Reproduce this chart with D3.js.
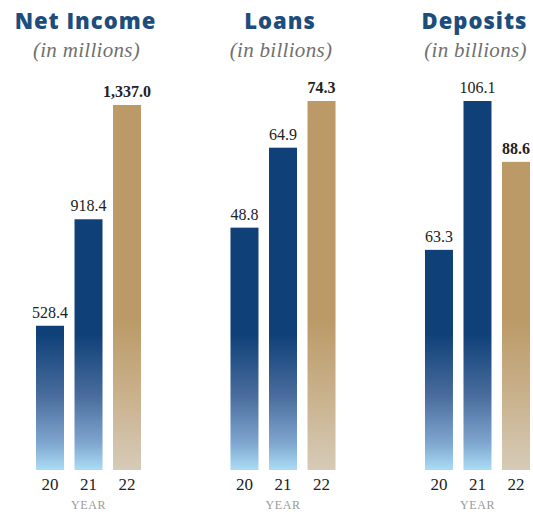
<!DOCTYPE html>
<html>
<head>
<meta charset="utf-8">
<script src="https://cdn.jsdelivr.net/npm/d3@7"></script>
<style>
  html, body { margin: 0; padding: 0; background: #fff; }
  svg { display: block; }
  .title { font-family: 'Open Sans', sans-serif; font-weight: 800; font-size: 22px; fill: #1d4d7d; letter-spacing: 1px; }
  .unit { font-family: 'Liberation Serif', serif; font-style: italic; font-size: 21px; fill: #707070; letter-spacing: 0.3px; }
  .value { font-family: 'Liberation Serif', serif; font-size: 16px; fill: #222; }
  .value.last { font-weight: bold; }
  .tick text { font-family: 'Liberation Serif', serif; font-size: 17px; fill: #222; }
  .yearLabel { font-family: 'Liberation Serif', serif; font-size: 12px; fill: #9a9a9a; letter-spacing: 0.6px; }
</style>
</head>
<body>
<svg></svg>
<script>
const years = ['20', '21', '22'];
const panelTitles = ['Net Income', 'Loans', 'Deposits'];
const panelUnits = ['(in millions)', '(in billions)', '(in billions)'];
const netIncome = [528.4, 918.4, 1337.0];
const loans = [48.8, 64.9, 74.3];
const deposits = [63.3, 106.1, 88.6];
const seriesList = [netIncome, loans, deposits];

const w = 533;
const h = 512;
const baseY = 470;
const topY = [105, 101, 101];

const svg = d3.select('svg').attr('width', w).attr('height', h);

// gradients (drawn in page space so short bars start lighter)
const defs = svg.append('defs');
const blue = defs.append('linearGradient').attr('id', 'gBlue')
  .attr('gradientUnits', 'userSpaceOnUse').attr('x1', 0).attr('x2', 0).attr('y1', 335).attr('y2', baseY);
blue.append('stop').attr('offset', 0).attr('stop-color', '#0f4178');
blue.append('stop').attr('offset', 0.45).attr('stop-color', '#4a6c9d');
blue.append('stop').attr('offset', 0.8).attr('stop-color', '#7fa6cf');
blue.append('stop').attr('offset', 1).attr('stop-color', '#abdcf5');
const tan = defs.append('linearGradient').attr('id', 'gTan')
  .attr('gradientUnits', 'userSpaceOnUse').attr('x1', 0).attr('x2', 0).attr('y1', 320).attr('y2', baseY);
tan.append('stop').attr('offset', 0).attr('stop-color', '#bb9a68');
tan.append('stop').attr('offset', 0.5).attr('stop-color', '#c9b18c');
tan.append('stop').attr('offset', 1).attr('stop-color', '#d6cbb8');

const panelScale = d3.scaleBand().domain(panelTitles).range([36, 530]).paddingInner(0.46);
const fmt = d3.format(',.1f');

panelTitles.forEach((title, i) => {
  const data = seriesList[i];
  const x0 = panelScale(title);
  const g = svg.append('g');
  const xScale = d3.scaleBand().domain(years).range([x0, x0 + panelScale.bandwidth()]).paddingInner(0.273);
  const yScale = d3.scaleLinear().domain([0, d3.max(data)]).range([baseY, topY[i]]);
  const cx = x0 + panelScale.bandwidth() / 2;

  g.append('text').attr('class', 'title').attr('x', cx - 3).attr('y', 29)
    .attr('text-anchor', 'middle').text(title);
  g.append('text').attr('class', 'unit').attr('x', cx - 2).attr('y', 57)
    .attr('text-anchor', 'middle').text(panelUnits[i]);

  g.selectAll('rect')
    .data(data)
    .enter()
    .append('rect')
    .attr('x', (d, j) => xScale(years[j]))
    .attr('y', (d) => yScale(d))
    .attr('width', xScale.bandwidth())
    .attr('height', (d) => baseY - yScale(d))
    .attr('fill', (d, j) => (j === years.length - 1 ? 'url(#gTan)' : 'url(#gBlue)'));

  g.selectAll('text.value')
    .data(data)
    .enter()
    .append('text')
    .attr('class', (d, j) => (j === years.length - 1 ? 'value last' : 'value'))
    .attr('x', (d, j) => xScale(years[j]) + xScale.bandwidth() / 2)
    .attr('y', (d) => yScale(d) - 8)
    .attr('text-anchor', 'middle')
    .text((d) => fmt(d));

  const xAxis = d3.axisBottom(xScale).tickSize(0).tickPadding(8);
  g.append('g').attr('transform', `translate(0, ${baseY})`).call(xAxis)
    .call((a) => a.select('.domain').remove());

  g.append('text').attr('class', 'yearLabel')
    .attr('x', xScale(years[1]) + xScale.bandwidth() / 2).attr('y', 509)
    .attr('text-anchor', 'middle').text('YEAR');
});
</script>
</body>
</html>
